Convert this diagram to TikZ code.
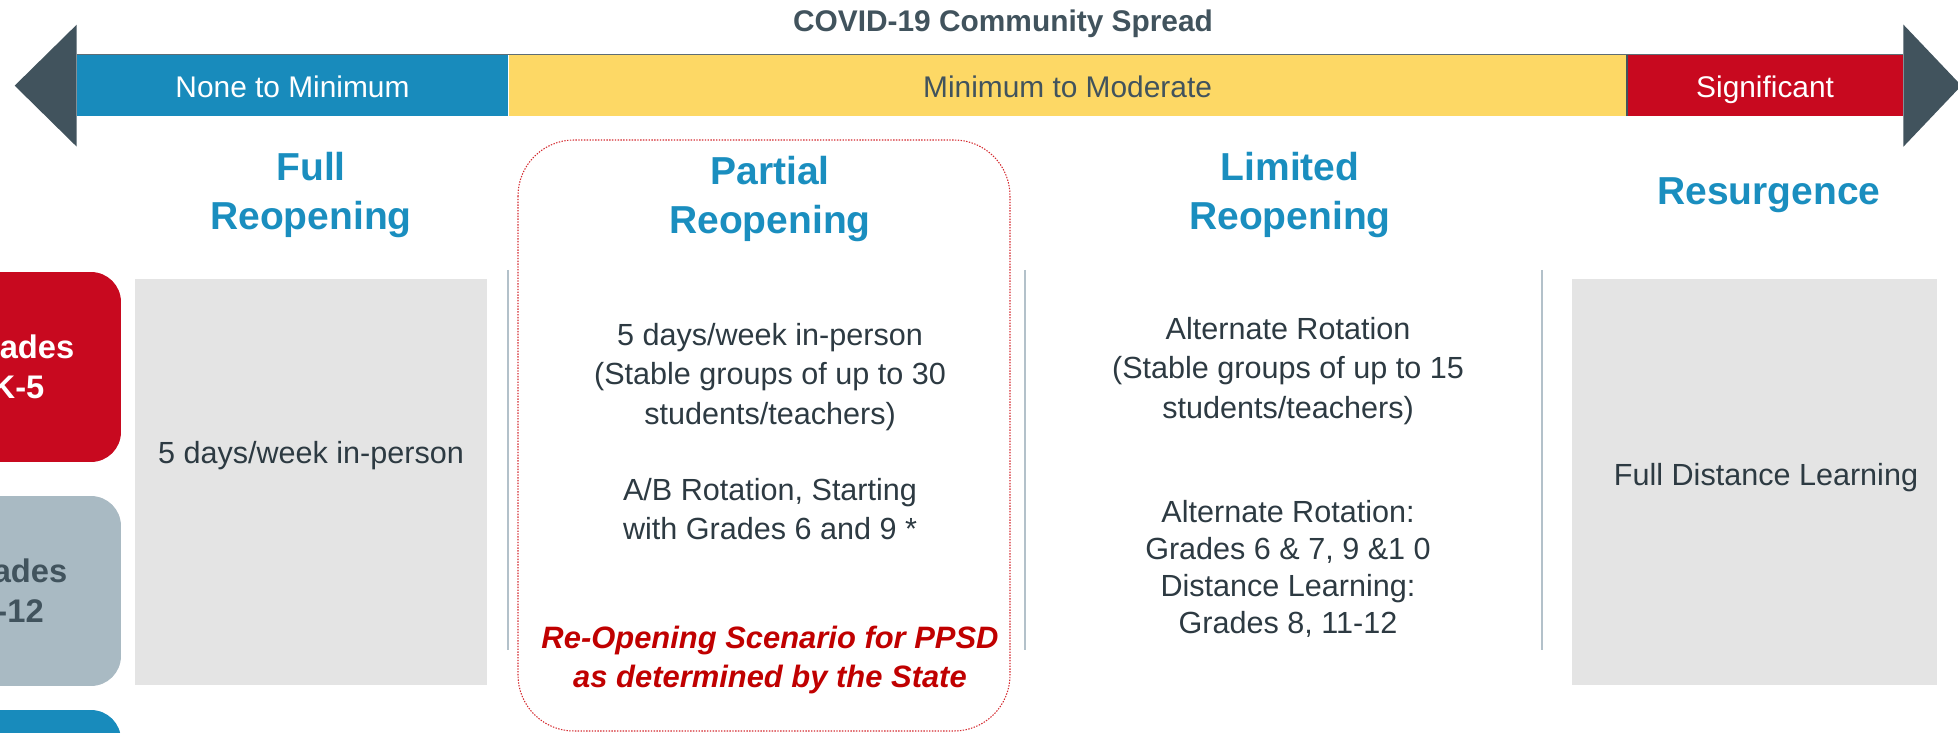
\documentclass[tikz,border=0pt]{standalone}
\usepackage{fontspec}
\setmainfont{Liberation Sans}
\usetikzlibrary{positioning}
\definecolor{spreadblue}{HTML}{188BBC}
\definecolor{spreadyellow}{HTML}{FDD865}
\definecolor{spreadred}{HTML}{C8091F}
\definecolor{slate}{HTML}{41535D}
\definecolor{headblue}{HTML}{1A8EBF}
\definecolor{bodytext}{HTML}{2D3A42}
\definecolor{panelgray}{HTML}{E4E4E4}
\definecolor{rowgray}{HTML}{A9BAC3}
\definecolor{divider}{HTML}{B3C1CA}
\definecolor{stateRed}{HTML}{C00000}
\definecolor{dotRed}{HTML}{D42A2F}
\begin{document}
\begin{tikzpicture}[
            x=0.02cm, y=-0.02cm,
            band/.style = {rectangle, inner sep=0pt, minimum height=1.22cm, text height=13.9pt, text depth=0pt, font=\fontsize{17}{20}\selectfont},
            heading/.style = {align=center, text=headblue, font=\bfseries\fontsize{22.2}{28}\selectfont},
            body/.style = {align=center, text=bodytext, font=\fontsize{17.4}{22.5}\selectfont},
            panel/.style = {rectangle, fill=panelgray, minimum height=8.12cm},
            rowlabel/.style = {rectangle, rounded corners=0.6cm, minimum height=3.8cm, align=center, font=\bfseries\fontsize{18.6}{23}\selectfont},
            statenote/.style = {align=center, text=stateRed, font=\bfseries\itshape\fontsize{17.6}{22}\selectfont},
            statedot/.style = {dotRed, line width=0.6pt, dash pattern=on 0.8pt off 0.8pt}
        ]

        \useasboundingbox (0,0) rectangle (1958,733);
        \clip (0,0) rectangle (1958,733);

        \node[heading, text=slate, font=\bfseries\fontsize{17}{20}\selectfont] (title) at (1003,24) {COVID-19 Community Spread};

        \node[band, fill=spreadblue, text=white, minimum width=8.62cm] (none) at (292.5,85.5) {None to Minimum};
        \node[band, fill=spreadyellow, text=slate, minimum width=22.36cm, right=0pt of none] (moderate) {Minimum to Moderate};
        \node[band, fill=spreadred, text=white, minimum width=5.52cm, right=0pt of moderate] (significant) {Significant};
        \fill[slate] (none.north west) ++(0,-30) -- ++(-62,61) -- ++(62,61) -- cycle;
        \fill[slate] (significant.north east) ++(0,-30) -- ++(58,61) -- ++(-58,61) -- cycle;
        \draw[slate!85, line width=0.7pt] (none.north west) -- (significant.north east);
        \draw[slate, line width=0.8pt] (significant.north west) -- (significant.south west);

        \node[heading] (full) at (311,195) {Full\\Reopening};
        \node[heading] (partial) at (770,199) {Partial\\Reopening};
        \node[heading] (limited) at (1290,195) {Limited\\Reopening};
        \node[heading] (resurgence) at (1769,195) {Resurgence};

        \node[rowlabel, fill=spreadred, text=white, minimum width=4.12cm] (gradesk) at (18,367) {Grades\\K-5};
        \node[rowlabel, fill=rowgray, text=slate, minimum width=4.4cm] (gradesmid) at (11,591) {Grades\\6-12};
        \node[rowlabel, fill=spreadblue, minimum width=4.16cm] (gradeshigh) at (17,805) {};

        \node[panel, minimum width=7.04cm] (fullpanel) at (311,482) {};
        \node[panel, minimum width=7.3cm] (resurgencepanel) at (1754.5,482) {};
        \node[body] (fulltext) at (311,456) {5 days/week in-person};
        \node[body] (resurgencetext) at (1766,478) {Full Distance Learning};

        \foreach \xpos in {508,1025,1542}
            \draw[divider, line width=1.1pt] (\xpos,270) -- (\xpos,650);

        \draw[statedot, rounded corners=1.12cm] (518,140) rectangle (1010,731);
        \node[body] (partialgroups) at (770,377) {5 days/week in-person\\(Stable groups of up to 30\\students/teachers)};
        \node[body] (partialrotation) at (770,509) {A/B Rotation, Starting\\with Grades 6 and 9 *};
        \node[statenote] (statenote) at (770,660) {Re-Opening Scenario for PPSD\\as determined by the State};

        \node[body] (limitedgroups) at (1288,371) {Alternate Rotation\\(Stable groups of up to 15\\students/teachers)};
        \node[body, font=\fontsize{17.4}{21}\selectfont] (limitedrotation) at (1288,569) {Alternate Rotation:\\Grades 6 \& 7, 9 \&1 0\\Distance Learning:\\Grades 8, 11-12};

    \end{tikzpicture}
\end{document}
